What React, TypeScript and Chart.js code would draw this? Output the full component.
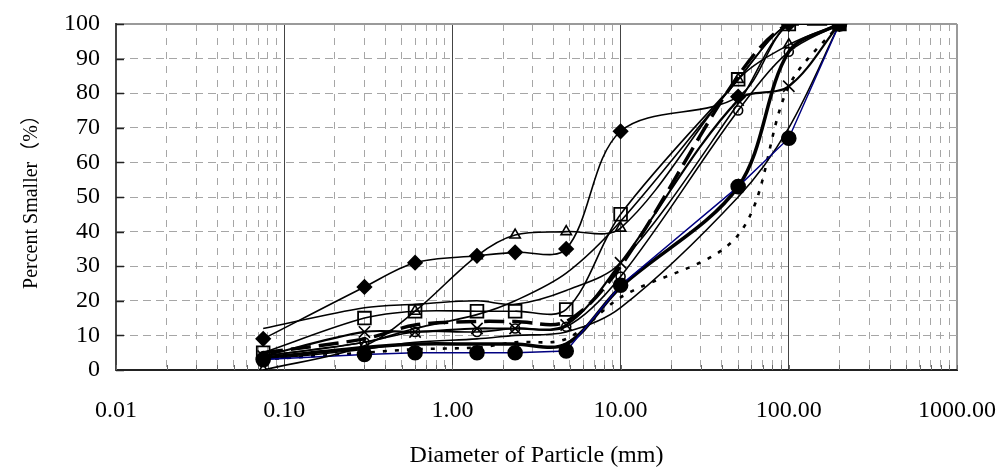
import React, { useEffect, useRef } from 'react';
import { Chart, registerables } from 'chart.js';

Chart.register(...registerables);

// ---- data ----
const sieveSizes = [0.075, 0.3, 0.6, 1.4, 2.36, 4.75, 10, 50, 100, 200];

const diamondSeries = [9, 24, 31, 33, 34, 35, 69, 79, 100, 100];
const triangleSeries = [0, 7, 17, 33, 39, 40, 41, 84, 94, 100];
const squareSeries = [5, 15, 17, 17, 17, 17.5, 45, 84, 100, 100];
const crossSeries = [4, 11, 11, 12, 12, 13, 31, 78, 82, 100];
const openCircleSeries = [4, 8, 11, 11, 12, 12.5, 27, 75, 92, 100];
const filledCircleSeries = [3, 4.5, 5, 5, 5, 5.5, 24.5, 53, 67, 100];
const longDashSeries = [5, 9, 13, 14, 14, 14, 30, 85, 100, 100];
const dottedSeries = [3, 5, 6, 6.5, 8, 9, 21, 39, 82, 100];
const thickSeries = [3.5, 6.5, 7.5, 7.5, 7.5, 7.5, 24, 53, 92, 100];
const thinSeriesA = [12, 18, 19, 20, 19, 23, 31, 77, 100, 100];
const thinSeriesB = [4, 8, 12, 16, 20, 28, 43, 84, 100, 100];
const thinSeriesC = [3, 6, 8, 9, 10, 11, 18, 50, 70, 100];

const xTickValues = [0.01, 0.1, 1, 10, 100, 1000];
const xTickLabels = ['0.01', '0.10', '1.00', '10.00', '100.00', '1000.00'];
const minorMultipliers = [2, 3, 4, 5, 6, 7, 8, 9];
const yTickStep = 10;

const xTitle = 'Diameter of Particle (mm)';
const yTitle = 'Percent Smaller（%）';

const FONT = "'Liberation Serif', 'Times New Roman', 'Noto Sans CJK SC', serif";

const toPoints = (vals: number[]) => sieveSizes.map((x, i) => ({ x, y: vals[i] }));

const isDecade = (v: number) => {
  const l = Math.log10(v);
  return Math.abs(l - Math.round(l)) < 1e-6;
};

// inward tick marks on the left and bottom axes (Excel style)
const innerTicks = {
  id: 'innerTicks',
  beforeDatasetsDraw(chart: any) {
    const { ctx, scales } = chart;
    const xs = scales.x;
    const ys = scales.y;
    ctx.save();
    ctx.strokeStyle = '#222';
    ctx.lineWidth = 1.5;
    ctx.beginPath();
    ys.ticks.forEach((t: any) => {
      const y = Math.round(ys.getPixelForValue(t.value)) + 0.5;
      ctx.moveTo(xs.left, y);
      ctx.lineTo(xs.left + 8, y);
    });
    ctx.stroke();
    ctx.lineWidth = 1;
    ctx.strokeStyle = '#666';
    ctx.beginPath();
    xs.ticks.forEach((t: any) => {
      const x = Math.round(xs.getPixelForValue(t.value)) + 0.5;
      ctx.moveTo(x, ys.bottom);
      ctx.lineTo(x, ys.bottom - 5);
    });
    ctx.stroke();
    ctx.restore();
  },
};

export default function App() {
  const ref = useRef<HTMLCanvasElement | null>(null);

  useEffect(() => {
    if (!ref.current) return;
    const base = {
      borderColor: '#000',
      borderWidth: 1.6,
      tension: 0.33,
      pointBorderColor: '#000',
      pointBackgroundColor: 'rgba(0,0,0,0)',
      pointBorderWidth: 1.6,
      pointRadius: 0,
      fill: false,
    };
    const datasets: any[] = [
      { ...base, label: 'diamond', data: toPoints(diamondSeries), pointStyle: 'rectRot', pointRadius: 7, pointBackgroundColor: '#000' },
      { ...base, label: 'triangle', data: toPoints(triangleSeries), pointStyle: 'triangle', pointRadius: 6 },
      { ...base, label: 'square', data: toPoints(squareSeries), pointStyle: 'rect', pointRadius: 9, pointBorderWidth: 1.8 },
      { ...base, label: 'cross', data: toPoints(crossSeries), pointStyle: 'crossRot', pointRadius: 8, borderWidth: 2.2 },
      { ...base, label: 'open circle', data: toPoints(openCircleSeries), pointStyle: 'circle', pointRadius: 4.5 },
      { ...base, label: 'filled circle', data: toPoints(filledCircleSeries), pointStyle: 'circle', pointRadius: 7, pointBackgroundColor: '#000', borderColor: '#000080', borderWidth: 1.5, tension: 0 },
      { ...base, label: 'long dash', data: toPoints(longDashSeries), borderWidth: 3.5, borderDash: [20, 8] },
      { ...base, label: 'dotted', data: toPoints(dottedSeries), borderWidth: 2.6, borderDash: [4, 8] },
      { ...base, label: 'thick', data: toPoints(thickSeries), borderWidth: 3.5 },
      { ...base, label: 'thin A', data: toPoints(thinSeriesA) },
      { ...base, label: 'thin B', data: toPoints(thinSeriesB) },
      { ...base, label: 'thin C', data: toPoints(thinSeriesC) },
    ];

    const chart = new Chart(ref.current, {
      type: 'line',
      data: { datasets },
      plugins: [innerTicks],
      options: {
        responsive: false,
        animation: false,
        events: [],
        layout: { padding: { top: 24, right: 41, bottom: 0, left: 0 } },
        plugins: { legend: { display: false }, tooltip: { enabled: false } },
        scales: {
          x: {
            type: 'logarithmic',
            min: 0.01,
            max: 1000,
            afterBuildTicks: (scale: any) => {
              const ticks: any[] = [];
              xTickValues.forEach((d, i) => {
                ticks.push({ value: d });
                if (i < xTickValues.length - 1) minorMultipliers.forEach((m) => ticks.push({ value: m * d }));
              });
              scale.ticks = ticks;
            },
            afterFit: (scale: any) => {
              scale.height = 100;
              scale.paddingLeft = 0;
              scale.paddingRight = 0;
            },
            ticks: {
              autoSkip: false,
              maxRotation: 0,
              minRotation: 0,
              padding: 26,
              color: '#000',
              font: { family: FONT, size: 24 },
              callback: (v: any) => {
                const idx = xTickValues.findIndex((d) => Math.abs(Math.log10(d) - Math.log10(Number(v))) < 1e-6);
                return idx >= 0 ? xTickLabels[idx] : '';
              },
            },
            grid: {
              drawTicks: false,
              color: (ctx: any) => {
                const v = ctx.tick ? ctx.tick.value : 0;
                if (Math.abs(v - 0.01) < 1e-9) return 'rgba(0,0,0,0)';
                if (Math.abs(v - 1000) < 1e-6) return '#9a9a9a';
                return isDecade(v) ? '#444' : '#a6a6a6';
              },
              lineWidth: (ctx: any) => {
                const v = ctx.tick ? ctx.tick.value : 0;
                if (Math.abs(v - 1000) < 1e-6) return 2;
                return 1;
              },
            },
            border: {
              display: true,
              color: '#222',
              width: 2,
              dash: (ctx: any) => (ctx.tick && !isDecade(ctx.tick.value) ? [7, 7] : []),
            },
            title: {
              display: true,
              text: xTitle,
              color: '#000',
              font: { family: FONT, size: 24 },
              padding: { top: 0, bottom: 0 },
            },
          },
          y: {
            min: 0,
            max: 100,
            afterFit: (scale: any) => {
              scale.width = 116;
              scale.paddingTop = 0;
              scale.paddingBottom = 0;
            },
            ticks: {
              stepSize: yTickStep,
              padding: 16,
              color: '#000',
              font: { family: FONT, size: 24 },
            },
            grid: {
              drawTicks: false,
              color: (ctx: any) => {
                const v = ctx.tick ? ctx.tick.value : 0;
                if (v <= 0) return 'rgba(0,0,0,0)';
                if (v >= 100) return '#9a9a9a';
                return '#a6a6a6';
              },
              lineWidth: (ctx: any) => {
                const v = ctx.tick ? ctx.tick.value : 0;
                return v >= 100 ? 2 : 1;
              },
            },
            border: {
              display: true,
              color: '#444',
              width: 2,
              dash: (ctx: any) => (ctx.tick && ctx.tick.value > 0 && ctx.tick.value < 100 ? [8, 5] : []),
            },
            title: {
              display: true,
              text: yTitle,
              color: '#000',
              font: { family: FONT, size: 20 },
              padding: { top: 20, bottom: 0 },
            },
          },
        },
      } as any,
    });
    return () => chart.destroy();
  }, []);

  return (
    <div style={{ position: 'fixed', left: 0, top: 0, width: 998, height: 470, background: '#fff' }}>
      <canvas ref={ref} width={998} height={470} />
    </div>
  );
}
